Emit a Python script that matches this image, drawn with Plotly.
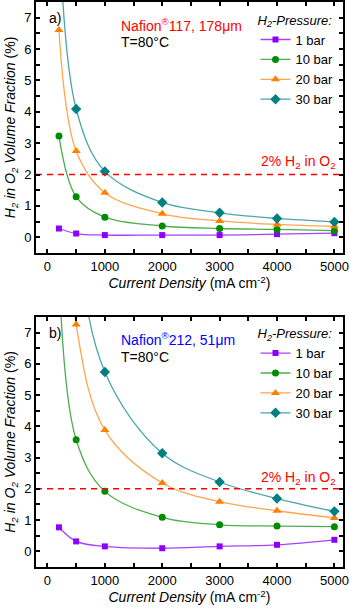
import plotly.graph_objects as go

# current density (mA cm-2)
current = [200, 500, 1000, 2000, 3000, 4000, 5000]
pressures = ["1 bar", "10 bar", "20 bar", "30 bar"]

# a) Nafion 117 - H2 in O2 (%)
n117_1bar = [0.28, 0.12, 0.07, 0.07, 0.07, 0.10, 0.13]
n117_10bar = [3.23, 1.29, 0.64, 0.36, 0.28, 0.25, 0.21]
n117_20bar = [6.61, 2.75, 1.42, 0.75, 0.52, 0.41, 0.35]
n117_30bar = [10.0, 4.09, 2.10, 1.11, 0.78, 0.60, 0.49]

# b) Nafion 212
n212_1bar = [0.77, 0.32, 0.16, 0.10, 0.16, 0.21, 0.37]
n212_10bar = [9.0, 3.57, 1.92, 1.09, 0.85, 0.81, 0.79]
n212_20bar = [16.0, 7.26, 3.88, 2.19, 1.59, 1.30, 1.07]
n212_30bar = [25.0, 10.6, 5.74, 3.14, 2.22, 1.69, 1.28]

colors = ["#8B00FF", "#008C00", "#FF8000", "#008080"]
line_colors = ["rgba(139,0,255,0.75)", "rgba(0,140,0,0.7)", "rgba(255,128,0,0.7)", "rgba(0,128,128,0.7)"]
symbols = ["square", "circle", "triangle-up", "diamond"]
sizes = [6, 7, 8, 8]

FONT = "Liberation Sans, Arial, sans-serif"

fig = go.Figure()

panels = [
    ("x", "y", "legend", [n117_1bar, n117_10bar, n117_20bar, n117_30bar]),
    ("x2", "y2", "legend2", [n212_1bar, n212_10bar, n212_20bar, n212_30bar]),
]
for xa, ya, leg, series in panels:
    for i, vals in enumerate(series):
        fig.add_trace(go.Scatter(
            x=current, y=vals, xaxis=xa, yaxis=ya, legend=leg,
            name=pressures[i], mode="lines+markers",
            line=dict(color=line_colors[i], width=1.3, shape="spline"),
            marker=dict(color=colors[i], symbol=symbols[i], size=sizes[i]),
        ))
    # 2% limit
    fig.add_trace(go.Scatter(
        x=[-200, 5150], y=[2, 2], xaxis=xa, yaxis=ya, mode="lines",
        line=dict(color="#FF0000", width=1.5, dash="6px,5px"),
        showlegend=False, hoverinfo="skip",
    ))

axis_common = dict(
    showline=True, linewidth=2, linecolor="black", mirror="allticks",
    ticks="inside", ticklen=4, tickwidth=1.5, tickcolor="black",
    showgrid=False, zeroline=False, automargin=False,
    ticklabeloverflow="allow",
    tickfont=dict(family=FONT, size=13, color="black"),
)
xtitle = "<i>Current Density</i> (mA cm<sup>-2</sup>)"
ytitle = "<i>H<sub>2</sub> in O<sub>2</sub> Volume Fraction</i> (%)"

fig.update_layout(
    width=350, height=611,
    margin=dict(l=36, r=7, t=2, b=44),
    paper_bgcolor="white", plot_bgcolor="white",
    font=dict(family=FONT, size=14, color="black"),
    xaxis=dict(axis_common, domain=[0, 1], range=[-200, 5150], dtick=1000, anchor="y",
               minor=dict(ticks="inside", ticklen=4, dtick=500, tickcolor="black"),
               title=dict(text=xtitle, font=dict(size=14), standoff=6)),
    yaxis=dict(axis_common, domain=[0.5558, 1], range=[-0.5, 7.5], dtick=1, anchor="x",
               minor=dict(ticks="inside", ticklen=4, dtick=0.5, tickcolor="black"),
               title=dict(text=ytitle, font=dict(size=14), standoff=5)),
    xaxis2=dict(axis_common, domain=[0, 1], range=[-200, 5150], dtick=1000, anchor="y2",
                minor=dict(ticks="inside", ticklen=4, dtick=500, tickcolor="black"),
                title=dict(text=xtitle, font=dict(size=14), standoff=6)),
    yaxis2=dict(axis_common, domain=[0, 0.4425], range=[-0.5, 7.5], dtick=1, anchor="x2",
                minor=dict(ticks="inside", ticklen=4, dtick=0.5, tickcolor="black"),
                title=dict(text=ytitle, font=dict(size=14), standoff=5)),
    legend=dict(x=0.715, y=0.99, xanchor="left", yanchor="top", bgcolor="rgba(0,0,0,0)",
                title=dict(text="<i>H<sub>2</sub>-Pressure:</i>", font=dict(size=13)),
                font=dict(size=13), itemwidth=30, tracegroupgap=0),
    legend2=dict(x=0.715, y=0.435, xanchor="left", yanchor="top", bgcolor="rgba(0,0,0,0)",
                 title=dict(text="<i>H<sub>2</sub>-Pressure:</i>", font=dict(size=13)),
                 font=dict(size=13), itemwidth=30, tracegroupgap=0),
    showlegend=True,
)

notes = [
    ("x domain", "y domain", 0.035, 0.935, "a)", "black"),
    ("x domain", "y domain", 0.27, 0.91, "Nafion<sup>®</sup>117, 178μm", "#FF0000"),
    ("x domain", "y domain", 0.27, 0.84, "T=80°C", "black"),
    ("x2 domain", "y2 domain", 0.035, 0.935, "b)", "black"),
    ("x2 domain", "y2 domain", 0.27, 0.91, "Nafion<sup>®</sup>212, 51μm", "#0000FF"),
    ("x2 domain", "y2 domain", 0.27, 0.84, "T=80°C", "black"),
]
for xr, yr, xv, yv, txt, col in notes:
    fig.add_annotation(xref=xr, yref=yr, x=xv, y=yv, text=txt, showarrow=False,
                       xanchor="left", yanchor="middle", font=dict(size=14, color=col))

for xr, yr, yv in [("x", "y", 2.4), ("x2", "y2", 2.36)]:
    fig.add_annotation(xref=xr + " domain", yref=yr, x=0.985, y=yv,
                       text="2% H<sub>2</sub> in O<sub>2</sub>", showarrow=False,
                       xanchor="right", yanchor="middle", font=dict(size=14, color="#FF0000"))

# drop the default page margin so the figure sits at the window's corner
fig.write_html("out.html", config={"displayModeBar": False},
               post_script="document.body.style.margin='0';")
